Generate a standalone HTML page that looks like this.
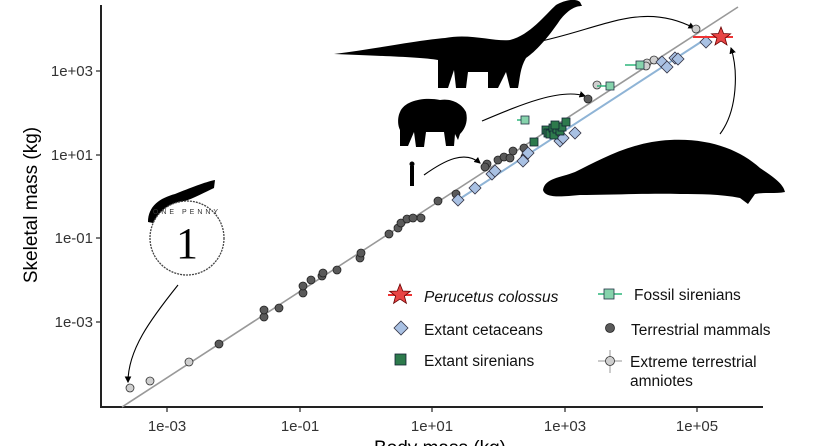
<!DOCTYPE html>
<html><head><meta charset="utf-8"><style>
body{margin:0;background:#fff}
svg{display:block;font-family:"Liberation Sans",sans-serif}
</style></head><body>
<svg width="825" height="446" viewBox="0 0 825 446" xmlns="http://www.w3.org/2000/svg">
<defs>
<marker id="ah" markerWidth="6" markerHeight="6" refX="5" refY="3" orient="auto"><path d="M0,0 L6,3 L0,6 z" fill="#000"/></marker>
</defs>
<g fill="#000">
<path d="M334,54 C380,48 420,40 445,38 C470,33 495,42 510,40 C530,35 545,15 556,5 C565,0 575,-2 580,2 L582,6 C575,6 568,10 560,20 C548,38 535,52 526,58 C520,68 520,78 518,88 L510,88 L506,72 L498,88 L488,88 L488,72 L468,72 L466,88 L456,88 L454,70 L448,88 L438,88 L438,60 C420,57 380,56 334,54 Z"/>
<path d="M400,112 C405,100 425,97 440,100 C452,98 462,104 466,112 C468,120 466,128 460,134 L458,140 L455,134 L454,146 L446,146 L444,132 L426,132 L424,147 L416,147 L414,132 L408,146 L400,146 L400,130 C397,124 398,116 400,112 Z"/>
<rect x="410" y="166" width="4" height="20"/><circle cx="412" cy="164" r="2.5"/>
<path d="M543,190 C545,178 560,178 575,172 C600,160 630,142 670,140 C710,138 740,150 760,168 C772,176 783,183 785,192 C775,194 765,192 755,194 L748,204 L740,198 C720,194 700,194 680,194 C650,193 610,195 580,195 C560,197 545,198 543,190Z"/>
<path d="M148,222 C148,206 160,198 175,194 C190,188 205,182 215,180 L214,188 C205,192 195,198 182,202 C170,206 162,212 158,224 Z"/>
</g>
<circle cx="187" cy="238" r="37" fill="#fff" stroke="#444" stroke-width="1.3" stroke-dasharray="2 1"/>
<text x="187" y="258" font-size="44" text-anchor="middle" font-family="Liberation Serif,serif">1</text>
<text x="187" y="214" font-size="7" text-anchor="middle" fill="#333" letter-spacing="3">ONE PENNY</text>
<g fill="none" stroke="#000" stroke-width="1.1" marker-end="url(#ah)">
<path d="M532,43 C600,30 640,0 694,28"/>
<path d="M482,121 C520,105 560,88 585,96"/>
<path d="M424,175 C445,160 465,150 480,163"/>
<path d="M720,134 C738,110 738,70 731,48"/>
<path d="M178,285 C150,320 128,350 128,382"/>
</g>
<g stroke="#222" stroke-width="2" fill="none">
<path d="M101,5 L101,407 L763,407"/>
</g>
<g stroke="#222" stroke-width="1.2">
<line x1="96" y1="71" x2="101" y2="71"/><line x1="96" y1="155" x2="101" y2="155"/><line x1="96" y1="238" x2="101" y2="238"/><line x1="96" y1="322" x2="101" y2="322"/>
<line x1="167" y1="407" x2="167" y2="412"/><line x1="300" y1="407" x2="300" y2="412"/><line x1="432" y1="407" x2="432" y2="412"/><line x1="565" y1="407" x2="565" y2="412"/><line x1="697" y1="407" x2="697" y2="412"/>
</g>
<g font-size="15" fill="#333" text-anchor="end">
<text x="93" y="76">1e+03</text><text x="93" y="160">1e+01</text><text x="93" y="243">1e-01</text><text x="93" y="327">1e-03</text>
</g>
<g font-size="15" fill="#333" text-anchor="middle">
<text x="167" y="431">1e-03</text><text x="300" y="431">1e-01</text><text x="432" y="431">1e+01</text><text x="565" y="431">1e+03</text><text x="697" y="431">1e+05</text>
</g>
<text x="440" y="454" font-size="19" text-anchor="middle">Body mass (kg)</text>
<text transform="translate(37,205) rotate(-90)" font-size="19" text-anchor="middle">Skeletal mass (kg)</text>
<line x1="122" y1="407" x2="738" y2="7" stroke="#999" stroke-width="1.6"/>
<line x1="458" y1="200" x2="707" y2="38" stroke="#8fb4d6" stroke-width="2"/>
<g fill="#5a5a5a" stroke="#222" stroke-width="0.8">
<circle cx="219" cy="344" r="4"/><circle cx="264" cy="317" r="4"/><circle cx="264" cy="310" r="4"/><circle cx="279" cy="308" r="4"/><circle cx="303" cy="293" r="4"/><circle cx="303" cy="286" r="4"/><circle cx="311" cy="280" r="4"/><circle cx="322" cy="276" r="4"/><circle cx="323" cy="273" r="4"/><circle cx="337" cy="270" r="4"/><circle cx="360" cy="258" r="4"/><circle cx="361" cy="253" r="4"/><circle cx="389" cy="234" r="4"/><circle cx="398" cy="228" r="4"/><circle cx="401" cy="223" r="4"/><circle cx="407" cy="219" r="4"/><circle cx="413" cy="218" r="4"/><circle cx="421" cy="218" r="4"/>
<circle cx="438" cy="201" r="4"/><circle cx="456" cy="194" r="4"/><circle cx="487" cy="164" r="4"/><circle cx="485" cy="167" r="4"/><circle cx="498" cy="160" r="4"/><circle cx="504" cy="157" r="4"/><circle cx="510" cy="158" r="4"/><circle cx="513" cy="151" r="4"/><circle cx="525" cy="157" r="4"/><circle cx="524" cy="148" r="4"/><circle cx="588" cy="99" r="4"/>
</g>
<g fill="#cfcfcf" stroke="#333" stroke-width="0.8">
<circle cx="130" cy="388" r="4"/><circle cx="150" cy="381" r="4"/><circle cx="189" cy="362" r="4"/><circle cx="597" cy="85" r="4"/><circle cx="647" cy="63" r="4"/><circle cx="646" cy="66" r="4"/><circle cx="654" cy="60" r="4"/><circle cx="696" cy="29" r="4"/>
</g>
<g fill="#a9c1e3" stroke="#334" stroke-width="0.8">
<path d="M458,194 l6,6 l-6,6 l-6,-6z"/><path d="M475,182 l6,6 l-6,6 l-6,-6z"/><path d="M492,168 l6,6 l-6,6 l-6,-6z"/><path d="M495,165 l6,6 l-6,6 l-6,-6z"/><path d="M523,155 l6,6 l-6,6 l-6,-6z"/><path d="M528,147 l6,6 l-6,6 l-6,-6z"/><path d="M560,135 l6,6 l-6,6 l-6,-6z"/><path d="M563,132 l6,6 l-6,6 l-6,-6z"/><path d="M575,127 l6,6 l-6,6 l-6,-6z"/><path d="M662,56 l6,6 l-6,6 l-6,-6z"/><path d="M667,61 l6,6 l-6,6 l-6,-6z"/><path d="M675,52 l6,6 l-6,6 l-6,-6z"/><path d="M678,53 l6,6 l-6,6 l-6,-6z"/><path d="M706,36 l6,6 l-6,6 l-6,-6z"/>
</g>
<g fill="#2d7a4c" stroke="#123" stroke-width="0.8">
<rect x="530" y="138" width="8" height="8"/><rect x="542" y="126" width="8" height="8"/><rect x="544" y="129" width="8" height="8"/><rect x="546" y="130" width="8" height="8"/><rect x="549" y="124" width="8" height="8"/><rect x="550" y="131" width="8" height="8"/><rect x="553" y="125" width="8" height="8"/><rect x="556" y="127" width="8" height="8"/><rect x="558" y="123" width="8" height="8"/><rect x="562" y="118" width="8" height="8"/><rect x="551" y="121" width="8" height="8"/>
</g>
<g stroke="#2db57a" stroke-width="1.5"><line x1="517" y1="120" x2="525" y2="120"/><line x1="597" y1="86" x2="610" y2="86"/><line x1="625" y1="65" x2="640" y2="65"/></g>
<g fill="#86d3ac" stroke="#234" stroke-width="0.8">
<rect x="521" y="116" width="8" height="8"/><rect x="606" y="82" width="8" height="8"/><rect x="636" y="61" width="8" height="8"/>
</g>
<line x1="693" y1="37" x2="733" y2="37" stroke="#e33" stroke-width="2"/>
<path d="M721,27 l2.6,6.5 7,0.3 -5.5,4.4 1.9,6.8 -6,-3.9 -6,3.9 1.9,-6.8 -5.5,-4.4 7,-0.3z" fill="#e84545" stroke="#600" stroke-width="0.8"/>
<line x1="388" y1="295" x2="412" y2="295" stroke="#e33" stroke-width="2"/>
<path d="M400,284 l2.8,7 7.5,0.3 -5.9,4.7 2,7.3 -6.4,-4.2 -6.4,4.2 2,-7.3 -5.9,-4.7 7.5,-0.3z" fill="#e84545" stroke="#600" stroke-width="0.8"/>
<path d="M401,321 l7,7 l-7,7 l-7,-7z" fill="#a9c1e3" stroke="#334" stroke-width="0.8"/>
<rect x="395" y="354" width="11" height="11" fill="#2d7a4c" stroke="#123" stroke-width="0.8"/>
<line x1="598" y1="294" x2="622" y2="294" stroke="#2db57a" stroke-width="1.5"/>
<rect x="604" y="289" width="10" height="10" fill="#86d3ac" stroke="#234" stroke-width="0.8"/>
<circle cx="610" cy="328" r="4.5" fill="#5a5a5a" stroke="#222" stroke-width="0.8"/>
<line x1="598" y1="361" x2="622" y2="361" stroke="#aaa" stroke-width="1.2"/><line x1="610" y1="350" x2="610" y2="373" stroke="#aaa" stroke-width="1.2"/>
<circle cx="610" cy="361" r="4.5" fill="#cfcfcf" stroke="#333" stroke-width="0.8"/>
<g font-size="15.5" fill="#111">
<text x="424" y="302" font-style="italic">Perucetus colossus</text>
<text x="424" y="335">Extant cetaceans</text>
<text x="424" y="366">Extant sirenians</text>
<text x="634" y="300">Fossil sirenians</text>
<text x="631" y="335">Terrestrial mammals</text>
<text x="630" y="367">Extreme terrestrial</text>
<text x="630" y="386">amniotes</text>
</g>
</svg>
</body></html>
